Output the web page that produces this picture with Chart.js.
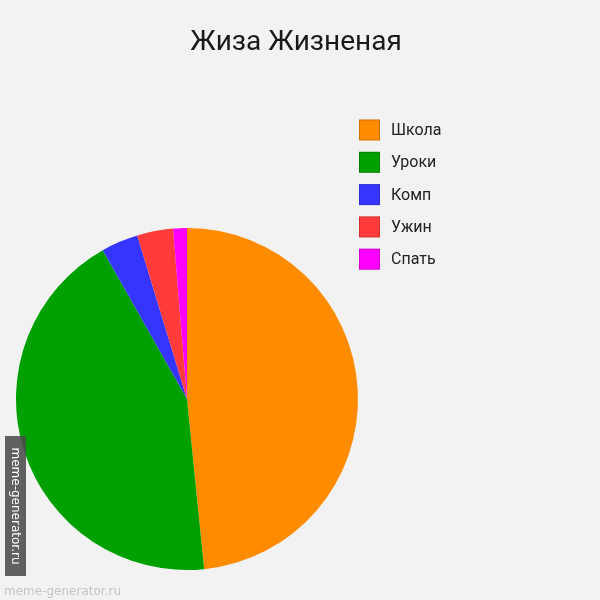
<!DOCTYPE html>
<html>
<head>
<meta charset="utf-8">
<script src="https://cdn.jsdelivr.net/npm/chart.js@4/dist/chart.umd.min.js"></script>
<style>
  html, body { margin: 0; padding: 0; background: #f2f2f2; overflow: hidden; }
  #wrap { width: 600px; height: 600px; position: relative; }
</style>
</head>
<body>
<div id="wrap"><canvas id="c" width="600" height="600"></canvas></div>
<script>
// Day breakdown
const titleText = 'Жиза Жизненая';
const categories = ['Школа', 'Уроки', 'Комп', 'Ужин', 'Спать'];
const shares = [48.4, 43.4, 3.5, 3.4, 1.3];
const sliceColors = ['#ff8c00', '#00a000', '#3535ff', '#ff3b3b', '#ff00ff'];
const watermark = 'meme-generator.ru';

// Title, legend and watermark painted on the canvas
const decorations = {
  id: 'decorations',
  beforeDraw(chart) {
    const ctx = chart.ctx;
    ctx.save();
    ctx.fillStyle = '#f2f2f2';
    ctx.fillRect(0, 0, chart.width, chart.height);
    ctx.restore();
  },
  afterDraw(chart) {
    const ctx = chart.ctx;
    ctx.save();
    // title
    ctx.fillStyle = '#1a1a1a';
    ctx.font = '28px Roboto';
    ctx.textAlign = 'center';
    ctx.textBaseline = 'alphabetic';
    ctx.fillText(titleText, 296, 50);

    // legend
    const labels = chart.data.labels;
    const colors = chart.data.datasets[0].backgroundColor;
    ctx.font = '16px Roboto';
    ctx.textAlign = 'left';
    ctx.textBaseline = 'middle';
    labels.forEach((lab, i) => {
      const y = 130 + i * 32.3;
      ctx.fillStyle = colors[i];
      ctx.fillRect(359, y - 10.5, 21, 21);
      ctx.strokeStyle = 'rgba(0,0,0,0.18)';
      ctx.lineWidth = 1;
      ctx.strokeRect(359.5, y - 10, 20, 20);
      ctx.fillStyle = '#222';
      ctx.fillText(lab, 391, y + 1);
    });

    // faint watermark along the bottom edge
    ctx.fillStyle = 'rgba(165,165,165,0.6)';
    ctx.font = '12px "DejaVu Sans"';
    ctx.textAlign = 'left';
    ctx.textBaseline = 'middle';
    ctx.fillText(watermark, 4, 592);

    // vertical watermark strip
    ctx.fillStyle = 'rgba(75,75,75,0.88)';
    ctx.fillRect(5, 436, 21, 140);
    ctx.translate(15.5, 506);
    ctx.rotate(Math.PI / 2);
    ctx.fillStyle = '#ffffff';
    ctx.font = '12px "DejaVu Sans"';
    ctx.textAlign = 'center';
    ctx.textBaseline = 'middle';
    ctx.fillText(watermark, 0, 0);
    ctx.restore();
  }
};

new Chart(document.getElementById('c'), {
  type: 'pie',
  data: {
    labels: categories,
    datasets: [{
      data: shares,
      backgroundColor: sliceColors,
      borderWidth: 0,
      hoverOffset: 0
    }]
  },
  options: {
    responsive: false,
    animation: false,
    layout: { padding: { left: 16, right: 242, top: 228, bottom: 30 } },
    plugins: {
      legend: { display: false },
      title: { display: false },
      tooltip: { enabled: false }
    }
  },
  plugins: [decorations]
});
</script>
</body>
</html>
